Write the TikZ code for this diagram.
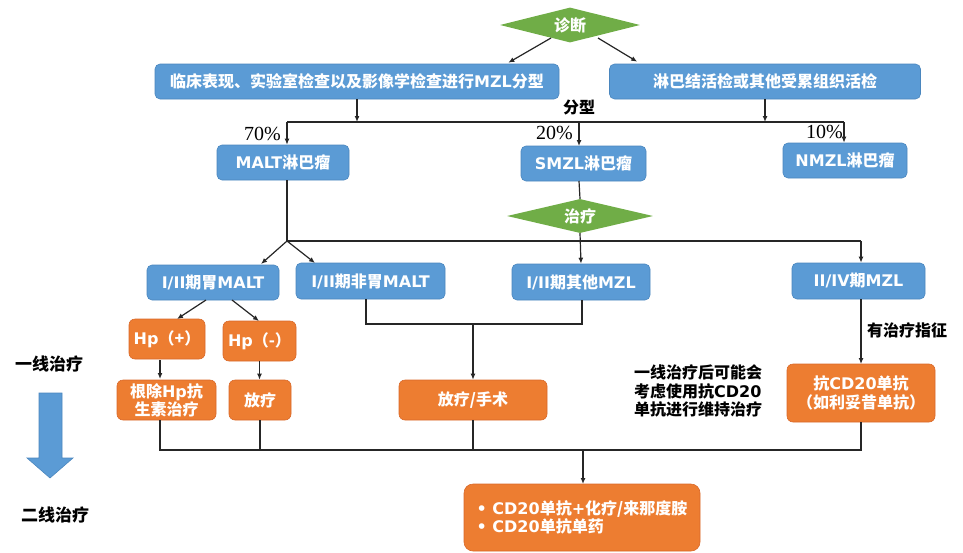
\documentclass[tikz,border=0pt]{standalone}
\usepackage{fontspec}
\setmainfont{Noto Sans CJK SC}
\newfontfamily\pctfont{Liberation Serif}
\newfontfamily\latinfont{DejaVu Sans}
\newcommand\lat[1]{{\latinfont #1}}
\usetikzlibrary{shapes.geometric,arrows.meta,calc}
\definecolor{boxblue}{HTML}{5B9BD5}
\definecolor{boxblueedge}{HTML}{4A86BE}
\definecolor{boxorange}{HTML}{ED7D31}
\definecolor{boxorangeedge}{HTML}{D9692A}
\definecolor{decgreen}{HTML}{70AD47}
\begin{document}
\begin{tikzpicture}[x=1pt,y=-1pt,
  every node/.style={font=\fontsize{16}{19}\selectfont\bfseries, inner sep=0pt},
  bluebox/.style={rectangle, rounded corners=5pt, fill=boxblue, draw=boxblueedge, line width=0.6pt, text=white, align=center},
  orangebox/.style={rectangle, rounded corners=6pt, fill=boxorange, draw=boxorangeedge, line width=0.6pt, text=white, align=center},
  decision/.style={diamond, shape aspect=4, fill=decgreen, draw=none, text=white},
  note/.style={text=black, align=left},
  pct/.style={font=\pctfont\fontsize{20}{21}\selectfont, text=black},
  link/.style={line width=1.2pt, draw=black!85},
  arr/.style={link, -{Latex[length=6pt,width=5pt]}},
]
\useasboundingbox (0,0) rectangle (963,552);

% ---- diagnosis ----
\node[decision, minimum width=140pt, minimum height=35pt] (diag) at (570,25) {诊断};
\node[bluebox, minimum width=404pt, minimum height=35pt] (clin) at (357,81.5) {临床表现、实验室检查以及影像学检查进行\lat{MZL}分型};
\node[bluebox, minimum width=311pt, minimum height=35pt] (biop) at (765,81.5) {淋巴结活检或其他受累组织活检};
\draw[arr] ($(diag.center)+(-19,13)$) -- ($(clin.north east)+(-51,-1)$);
\draw[arr] ($(diag.center)+(28,13)$) -- ($(biop.north west)+(28,-2)$);

% ---- subtypes ----
\node[text=black] (typ) at (579,107) {分型};
\node[bluebox, minimum width=132pt, minimum height=35pt] (malt) at (283,162.5) {\lat{MALT}淋巴瘤};
\node[bluebox, minimum width=125pt, minimum height=35pt] (smzl) at (583.5,163.5) {\lat{SMZL}淋巴瘤};
\node[bluebox, minimum width=124pt, minimum height=35pt] (nmzl) at (845,160.5) {\lat{NMZL}淋巴瘤};
\coordinate (tl) at (287,122);
\coordinate (tr) at (844,122);
\draw[arr] (clin.south) -- (clin.south |- tl);
\draw[arr] (biop.south) -- (biop.south |- tl);
\draw[link] (tl) -- (tr);
\draw[arr] (tl) -- (tl |- malt.north);
\draw[arr] (579,122) -- (579,146);
\draw[arr] (tr) -- (tr |- nmzl.north);
\node[pct, anchor=east] (p70) at (281,134) {70\%};
\node[pct, anchor=east] (p20) at (573,133) {20\%};
\node[pct, anchor=east] (p10) at (843,132) {10\%};

% ---- treatment decision ----
\node[decision, minimum width=146pt, minimum height=34pt] (treat) at (580,216) {治疗};
\draw[link] (579,181) -- (treat.north);

\node[bluebox, minimum width=132pt, minimum height=35pt] (gas) at (213,282.5) {\lat{I/II}期胃\lat{MALT}};
\node[bluebox, minimum width=149pt, minimum height=36pt] (ngas) at (370.5,281) {\lat{I/II}期非胃\lat{MALT}};
\node[bluebox, minimum width=138pt, minimum height=36pt] (oth) at (581,282) {\lat{I/II}期其他\lat{MZL}};
\node[bluebox, minimum width=133pt, minimum height=36pt] (adv) at (858.5,281) {\lat{II/IV}期\lat{MZL}};

\coordinate (split) at (287,241);
\coordinate (right) at (861,241);
\draw[link] (287,180) -- (split);
\draw[arr] (split) -- (261,264);
\draw[arr] (split) -- (315,263);
\draw[link] (split) -- (right);
\draw[arr] (right) -- (right |- adv.north);
\draw[arr] (treat.south) -- (oth.north);

% ---- first-line ----
\node[orangebox, minimum width=76pt, minimum height=40pt] (hpp) at (167,339) {\lat{Hp}（+）};
\node[orangebox, minimum width=73pt, minimum height=40pt] (hpm) at (259.5,341) {\lat{Hp}（-）};
\draw[arr] (206,300) -- (177,319);
\draw[arr] (232,300) -- (259,321);

\node[orangebox, minimum width=99pt, minimum height=40pt, font=\fontsize{16}{17}\selectfont\bfseries] (erad) at (166.5,400) {根除\lat{Hp}抗\\生素治疗};
\node[orangebox, minimum width=62pt, minimum height=40pt] (rt) at (260,400) {放疗};
\node[orangebox, minimum width=148pt, minimum height=40pt] (rts) at (473,400) {放疗/手术};
\draw[arr] (160,360) -- (160,379);
\draw[arr] (hpm.south) -- (hpm.south |- rt.north);

\coordinate (ml) at (366,324);
\coordinate (mr) at (582,324);
\draw[link] (366,299) -- (ml) -- (mr) -- (582,300);
\draw[arr] (473,324) -- (rts.north);

\node[orangebox, minimum width=148pt, minimum height=58pt, font=\fontsize{16}{18.5}\selectfont\bfseries] (cd20) at (861,393) {抗\lat{CD20}单抗\\（如利妥昔单抗）};
\draw[arr] (861,299) -- (861,364);
\node[note, anchor=west] (ind) at (867,330) {有治疗指征};
\node[note, anchor=west, font=\fontsize{16}{18.2}\selectfont\bfseries] (maint) at (634,391) {一线治疗后可能会\\考虑使用抗\lat{CD20}\\单抗进行维持治疗};

% ---- second-line ----
\coordinate (bl) at (160,450);
\coordinate (br) at (861,450);
\draw[link] (160,420) -- (bl) -- (br) -- (cd20.south);
\draw[link] (rt.south) -- (rt.south |- bl);
\draw[link] (rts.south) -- (rts.south |- bl);
\node[orangebox, minimum width=236pt, minimum height=67pt, rounded corners=9pt, align=left, font=\fontsize{16}{18.5}\selectfont\bfseries] (sec) at (582,517.5) {\lat{• CD20}单抗\lat{+}化疗/来那度胺\\\lat{• CD20}单抗单药};
\draw[arr] (583,450) -- (583,484);

% ---- side labels and progression arrow ----
\node[text=black, font=\fontsize{17}{19}\selectfont\bfseries] (first) at (49,364) {一线治疗};
\node[text=black, font=\fontsize{17}{19}\selectfont\bfseries] (second) at (55,515) {二线治疗};
\draw[fill=boxblue, draw=boxblueedge, line width=0.6pt]
  (39,393) -- (62,393) -- (62,458) -- (73,458) -- (50,478) -- (27,458) -- (39,458) -- cycle;
\end{tikzpicture}
\end{document}
